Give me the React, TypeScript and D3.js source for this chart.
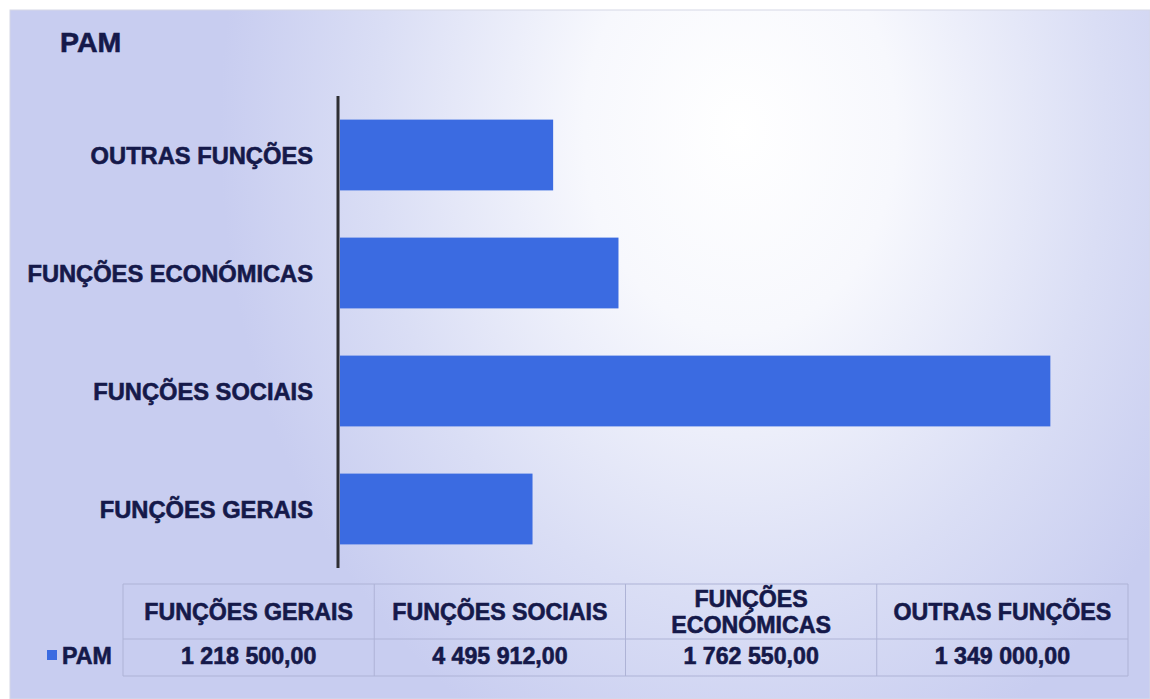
import { useEffect, useRef } from 'react';
import * as d3 from 'd3';

// chart data
const categories = ['FUNÇÕES GERAIS', 'FUNÇÕES SOCIAIS', 'FUNÇÕES ECONÓMICAS', 'OUTRAS FUNÇÕES'];
const pamValues = [1218500, 4495912, 1762550, 1349000];
const valueLabels = ['1 218 500,00', '4 495 912,00', '1 762 550,00', '1 349 000,00'];
const tableHeaders = [['FUNÇÕES GERAIS'], ['FUNÇÕES SOCIAIS'], ['FUNÇÕES', 'ECONÓMICAS'], ['OUTRAS FUNÇÕES']];
const seriesName = 'PAM';

const W = 1150;
const H = 699;
const TEXT = '#15194a';
const BAR = '#3b6be1';
const FONT = '"Liberation Sans", Arial, sans-serif';

export default function App() {
  const svgRef = useRef<SVGSVGElement>(null);

  useEffect(() => {
    if (!svgRef.current) return;
    const svg = d3.select(svgRef.current);
    svg.selectAll('*').remove();

    // background gradient
    const defs = svg.append('defs');
    const grad = defs
      .append('radialGradient')
      .attr('id', 'bg')
      .attr('gradientUnits', 'userSpaceOnUse')
      .attr('cx', 740)
      .attr('cy', 130)
      .attr('r', 520)
      .attr('gradientTransform', 'translate(740,130) scale(1,1.3) translate(-740,-130)');
    grad.append('stop').attr('offset', 0).attr('stop-color', '#ffffff');
    grad.append('stop').attr('offset', 0.3).attr('stop-color', '#f7f8fd');
    grad.append('stop').attr('offset', 0.7).attr('stop-color', '#dadef5');
    grad.append('stop').attr('offset', 1).attr('stop-color', '#c8cdf0');

    svg.append('rect').attr('width', W).attr('height', H).attr('fill', '#ffffff');
    svg.append('rect')
      .attr('x', 10)
      .attr('y', 10)
      .attr('width', W - 10)
      .attr('height', H - 10)
      .attr('fill', 'url(#bg)')
      .attr('stroke', '#d6d8e6')
      .attr('stroke-width', 1);

    const boldText = (sel: d3.Selection<SVGTextElement, any, any, any>, size: string) =>
      sel
        .attr('font-family', FONT)
        .attr('font-weight', 'bold')
        .attr('font-size', size)
        .attr('fill', TEXT)
        .attr('stroke', TEXT)
        .attr('stroke-width', 0.6);

    // title
    boldText(svg.append('text').attr('x', 60).attr('y', 52), '28.5px').text(seriesName);

    // scales
    const xScale = d3.scaleLinear().domain([0, 5000000]).range([340, 1130]);
    const order = [...categories].reverse(); // top to bottom
    const yScale = d3
      .scaleBand()
      .domain(order)
      .range([96, 568])
      .paddingInner(0.4)
      .paddingOuter(0.2);

    const g = svg.append('g');

    g.selectAll('.bar')
      .data(categories.map((c, i) => ({ c, v: pamValues[i] })))
      .enter()
      .append('rect')
      .attr('class', 'bar')
      .attr('x', xScale(0))
      .attr('y', (d) => yScale(d.c) as number)
      .attr('width', (d) => xScale(d.v) - xScale(0))
      .attr('height', yScale.bandwidth())
      .attr('fill', BAR);

    // category axis
    g.append('line')
      .attr('x1', 338)
      .attr('x2', 338)
      .attr('y1', 96)
      .attr('y2', 568)
      .attr('stroke', '#2e2e33')
      .attr('stroke-width', 3);

    categories.forEach((c) => {
      boldText(
        g.append('text')
          .attr('x', 313)
          .attr('y', (yScale(c) as number) + yScale.bandwidth() / 2)
          .attr('dy', '0.36em')
          .attr('text-anchor', 'end'),
        '23.7px'
      ).text(c);
    });

    // data table
    const colX = d3.scaleBand<number>().domain(d3.range(categories.length)).range([123, 1128]);
    const rowTop = 584;
    const rowMid = 639;
    const rowBot = 676;
    const lineColor = '#aeb3d6';

    const table = svg.append('g');
    [rowTop, rowMid, rowBot].forEach((y) => {
      table.append('line')
        .attr('x1', 123)
        .attr('x2', 1128)
        .attr('y1', y)
        .attr('y2', y)
        .attr('stroke', lineColor)
        .attr('stroke-width', 1);
    });
    d3.range(categories.length + 1).forEach((i) => {
      const x = i < categories.length ? (colX(i) as number) : 1128;
      table.append('line')
        .attr('x1', x)
        .attr('x2', x)
        .attr('y1', rowTop)
        .attr('y2', rowBot)
        .attr('stroke', lineColor)
        .attr('stroke-width', 1);
    });

    tableHeaders.forEach((lines, i) => {
      const cx = (colX(i) as number) + colX.bandwidth() / 2;
      const t = boldText(table.append('text').attr('text-anchor', 'middle'), '23.2px');
      if (lines.length === 1) {
        t.append('tspan').attr('x', cx).attr('y', 620).text(lines[0]);
      } else {
        t.append('tspan').attr('x', cx).attr('y', 607).text(lines[0]);
        t.append('tspan').attr('x', cx).attr('y', 633).text(lines[1]);
      }
    });

    valueLabels.forEach((v, i) => {
      boldText(
        table.append('text')
          .attr('x', (colX(i) as number) + colX.bandwidth() / 2)
          .attr('y', 664)
          .attr('text-anchor', 'middle'),
        '23.2px'
      ).text(v);
    });

    // legend key
    table.append('rect')
      .attr('x', 47)
      .attr('y', 650)
      .attr('width', 10)
      .attr('height', 10)
      .attr('fill', BAR);
    boldText(table.append('text').attr('x', 62).attr('y', 664), '23.2px').text(seriesName);
  }, []);

  return (
    <div style={{ position: 'absolute', left: 0, top: 0 }}>
      <svg ref={svgRef} width={W} height={H} style={{ display: 'block' }} />
    </div>
  );
}
